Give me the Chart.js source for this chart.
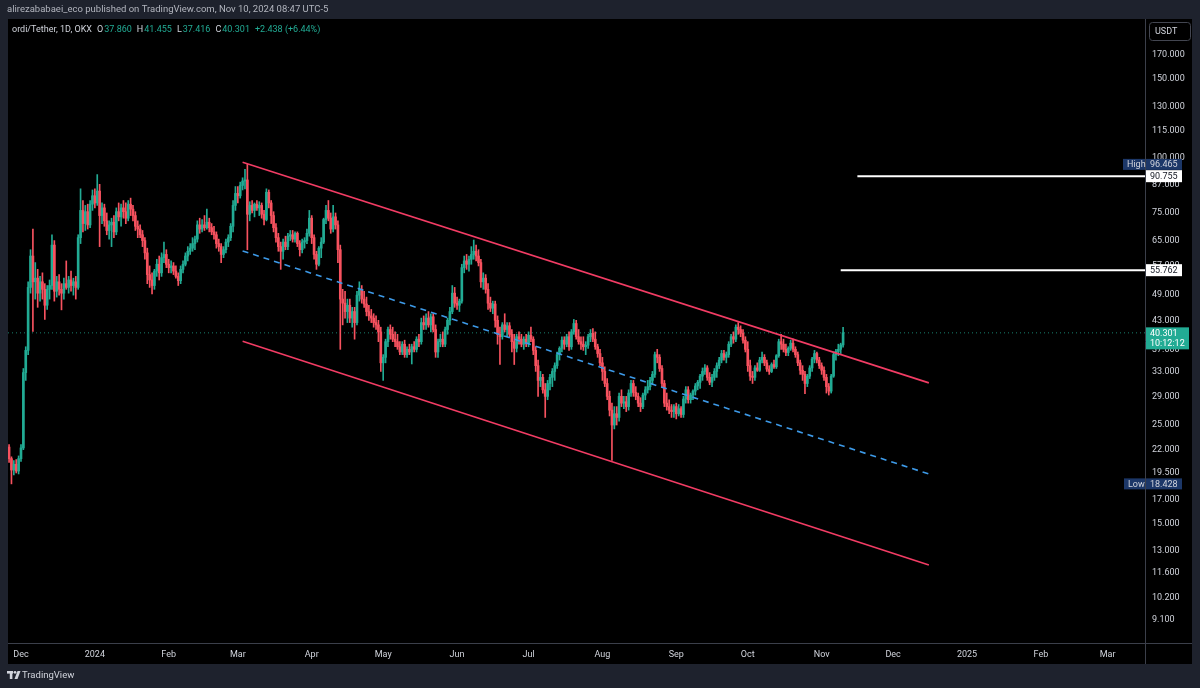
<!DOCTYPE html>
<html>
<head>
<meta charset="utf-8">
<script src="https://cdn.jsdelivr.net/npm/chart.js@4.4.1/dist/chart.umd.min.js"></script>
<style>
  html, body { margin:0; padding:0; background:#1e222d; }
  canvas { display:block; }
</style>
</head>
<body>
<canvas id="chart" width="1200" height="688"></canvas>
<script>
/* ---------- data: ORDI/USDT daily, one row per week (Sun..Sat) ---------- */
const startDate = '2023-11-26';

const opens = [
  22.3, 21.0, 19.8, 20.4, 19.7, 21.0, 22.2,
  32.8, 36.8, 51.0, 60.0, 52.5, 53.5, 49.5,
  52.5, 50.5, 46.5, 50.5, 51.5, 63.5, 50.0,
  52.5, 50.5, 49.5, 52.0, 51.0, 53.0, 51.5,
  52.5, 51.0, 66.0, 76.0, 71.0, 75.5, 70.5,
  78.5, 82.0, 79.0, 84.0, 74.0, 77.0, 72.0,
  68.5, 70.5, 71.5, 68.0, 75.5, 73.5, 77.0,
  75.5, 73.0, 78.5, 76.5, 74.0, 70.0, 69.0,
  67.0, 65.0, 61.0, 54.5, 53.0, 51.5, 55.5,
  57.5, 55.0, 59.5, 60.5, 57.5, 56.5, 57.0,
  55.5, 54.0, 52.8, 56.0, 57.5, 60.0, 61.5,
  62.5, 64.0, 65.5, 70.5, 69.0, 70.5, 69.5,
  71.5, 69.5, 68.0, 67.0, 64.0, 63.0, 60.5,
  62.0, 64.5, 66.0, 70.0, 78.0, 83.0, 82.0,
  86.5, 88.5, 89.0, 74.5, 78.0, 76.0, 78.5,
  77.0, 78.0, 74.5, 72.5, 83.5, 79.0, 74.0,
  69.5, 66.0, 63.0, 61.5, 64.5, 63.0, 66.5,
  67.0, 65.5, 67.5, 64.0, 62.0, 64.5, 65.0,
  67.5, 73.0, 66.0, 60.5, 57.5, 62.5, 64.5,
  72.5, 76.0, 73.0, 69.0, 73.5, 70.5, 62.0,
  48.0, 47.0, 45.0, 46.5, 43.5, 45.0, 42.5,
  49.0, 50.5, 48.0, 46.8, 45.0, 44.0, 43.5,
  42.5, 42.0, 40.5, 34.5, 35.5, 38.5, 41.0,
  40.0, 39.0, 38.5, 37.5, 36.5, 38.0, 36.0,
  37.0, 36.5, 37.5, 37.0, 39.0, 38.5, 42.5,
  42.0, 43.5, 42.0, 43.8, 41.0, 36.5, 38.5,
  39.0, 38.0, 41.0, 43.0, 45.0, 49.5, 47.0,
  46.5, 47.5, 56.5, 58.5, 57.5, 59.0, 60.5,
  61.5, 60.0, 58.0, 52.5, 53.5, 50.5, 47.0,
  45.8, 46.8, 43.0, 40.0, 39.5, 42.0, 41.0,
  41.8, 40.0, 38.5, 37.2, 39.5, 39.0, 38.0,
  39.0, 38.2, 39.8, 39.0, 36.8, 34.0, 31.5,
  32.0, 30.0, 29.0, 31.0, 32.0, 33.0, 34.0,
  36.0, 37.2, 38.8, 38.0, 39.5, 37.5, 40.5,
  42.3, 39.5, 38.5, 38.0, 37.5, 37.8, 39.5,
  40.2, 39.0, 37.5, 36.2, 34.5, 33.0, 31.0,
  29.0, 27.0, 25.0, 26.5, 26.0, 29.0, 28.0,
  28.2, 27.5, 29.5, 31.0, 29.6, 29.0, 28.0,
  27.5, 29.2, 30.0, 30.5, 31.5, 32.5, 36.0,
  35.5, 33.5, 31.0, 28.0, 27.5, 27.0, 26.8,
  27.5, 26.5, 27.2, 26.4, 28.6, 30.0, 28.5,
  29.2, 29.8, 30.6, 31.2, 32.2, 33.0, 33.6,
  32.0, 31.2, 32.0, 33.0, 34.0, 35.0, 36.2,
  35.5, 36.0, 38.0, 39.5, 39.0, 41.5, 41.0,
  40.2, 38.8, 37.0, 34.0, 32.2, 32.0, 33.6,
  33.2, 35.0, 35.5, 34.5, 33.4, 33.0, 34.2,
  33.8, 35.8, 38.5, 38.0, 37.0, 36.4, 37.2,
  38.2, 37.0, 36.0, 34.5, 33.2, 32.5, 31.0,
  32.2, 33.6, 35.2, 36.2, 35.0, 34.0, 33.2,
  32.0, 30.5, 29.8, 32.2, 36.0, 36.6, 37.0,
  37.86
];

const highs = [
  22.6, 21.2, 20.8, 20.9, 21.3, 22.6, 33.5,
  37.5, 52.5, 62.0, 69.0, 58.0, 56.0, 54.0,
  55.0, 52.0, 51.5, 53.0, 67.0, 65.0, 54.0,
  54.5, 52.0, 53.5, 58.5, 54.0, 55.5, 53.5,
  54.0, 67.0, 85.0, 80.0, 78.0, 78.5, 80.0,
  84.5, 85.0, 91.5, 87.0, 79.0, 78.5, 75.0,
  72.0, 73.0, 74.0, 77.0, 79.0, 78.5, 80.0,
  79.0, 80.0, 81.0, 78.0, 75.5, 72.0, 70.5,
  68.5, 66.0, 62.5, 57.0, 55.0, 56.0, 59.0,
  60.0, 61.0, 64.5, 62.0, 59.0, 58.5, 58.0,
  57.0, 55.0, 57.0, 58.5, 61.0, 63.0, 64.0,
  66.0, 66.5, 72.0, 73.0, 72.5, 74.0, 76.5,
  73.0, 71.0, 70.0, 68.0, 65.5, 64.0, 63.0,
  65.5, 67.0, 71.0, 80.0, 86.0, 86.0, 88.0,
  90.0, 94.0, 96.465, 79.5, 80.0, 79.0, 80.0,
  79.5, 79.0, 76.0, 85.0, 84.5, 80.0, 75.5,
  71.0, 67.5, 64.5, 65.5, 66.5, 67.5, 68.5,
  68.5, 68.0, 68.0, 65.0, 65.5, 66.0, 69.0,
  76.0, 74.0, 67.0, 61.5, 63.0, 66.0, 73.0,
  78.0, 80.0, 75.0, 78.0, 75.0, 72.0, 63.5,
  50.5, 50.0, 48.0, 48.0, 46.0, 46.0, 50.0,
  52.5, 51.5, 50.0, 48.5, 46.5, 45.5, 44.5,
  44.0, 43.0, 41.5, 36.0, 39.0, 41.5, 42.0,
  41.5, 40.5, 40.0, 38.5, 38.5, 38.8, 37.5,
  38.0, 38.0, 38.5, 39.5, 40.0, 43.5, 44.0,
  44.5, 45.0, 44.5, 44.5, 42.0, 39.0, 40.0,
  40.5, 41.5, 43.5, 46.0, 51.5, 51.0, 48.5,
  48.0, 57.5, 60.0, 60.5, 60.0, 63.0, 65.2,
  63.5, 62.0, 59.0, 55.0, 54.5, 52.0, 48.5,
  47.5, 47.5, 44.0, 41.5, 42.5, 44.5, 42.5,
  42.5, 41.0, 40.0, 40.0, 40.5, 40.0, 39.5,
  40.0, 40.5, 41.5, 39.5, 37.5, 35.0, 33.0,
  32.5, 31.0, 31.5, 32.5, 33.5, 34.5, 36.5,
  37.5, 39.5, 39.5, 40.0, 40.5, 41.0, 43.2,
  43.0, 41.0, 39.5, 39.5, 38.5, 40.0, 41.0,
  41.2, 40.5, 38.0, 37.0, 35.5, 33.8, 31.8,
  29.8, 28.0, 27.5, 27.5, 29.5, 30.0, 29.0,
  29.0, 30.0, 31.5, 31.5, 30.5, 29.5, 28.8,
  29.5, 30.5, 31.5, 32.0, 33.0, 36.5, 37.0,
  36.0, 34.0, 31.5, 29.5, 28.5, 27.8, 27.8,
  28.0, 27.8, 27.5, 29.0, 30.5, 30.5, 29.5,
  30.0, 31.0, 31.5, 32.5, 33.6, 34.2, 34.0,
  32.8, 32.5, 33.5, 34.5, 35.5, 36.8, 36.8,
  36.5, 38.5, 40.0, 40.5, 42.0, 42.5, 41.8,
  41.0, 39.5, 38.5, 35.0, 33.0, 34.0, 34.5,
  35.5, 36.5, 36.0, 35.0, 34.0, 34.5, 35.0,
  36.0, 39.0, 40.0, 39.0, 38.0, 37.5, 38.8,
  39.0, 37.5, 36.5, 35.0, 34.0, 33.0, 32.5,
  34.0, 35.5, 36.8, 36.5, 35.5, 34.5, 33.8,
  32.5, 31.0, 32.5, 36.5, 37.0, 38.0, 38.2,
  41.455
];

const lows = [
  20.6, 18.428, 19.3, 19.5, 19.4, 20.7, 22.0,
  31.5, 36.0, 49.5, 40.6, 48.0, 46.0, 47.5,
  48.0, 43.2, 45.5, 48.0, 50.5, 47.5, 48.5,
  49.0, 45.4, 48.0, 50.5, 49.5, 50.0, 49.0,
  48.0, 50.5, 64.0, 68.0, 68.5, 69.0, 69.5,
  76.0, 77.0, 78.0, 63.0, 71.0, 70.0, 67.0,
  65.5, 63.0, 66.0, 67.0, 72.0, 70.0, 73.0,
  71.0, 72.0, 74.0, 72.0, 68.5, 66.0, 66.0,
  63.0, 59.0, 52.0, 51.0, 49.3, 50.5, 54.0,
  53.0, 54.0, 58.0, 56.5, 55.0, 55.0, 54.5,
  53.5, 51.5, 52.0, 55.0, 57.0, 58.5, 60.5,
  61.5, 62.0, 64.5, 67.5, 68.0, 68.5, 69.0,
  68.0, 67.0, 65.5, 62.5, 61.5, 58.0, 59.5,
  61.0, 63.0, 65.0, 68.0, 76.0, 79.0, 81.0,
  84.5, 85.0, 62.0, 72.0, 75.0, 73.5, 76.0,
  74.0, 73.0, 70.5, 72.0, 77.0, 71.0, 68.0,
  64.5, 61.5, 56.0, 59.0, 62.0, 62.0, 65.0,
  64.5, 64.5, 63.0, 60.0, 61.0, 62.5, 64.0,
  66.5, 64.0, 59.0, 56.0, 57.0, 59.5, 64.0,
  71.0, 72.0, 67.5, 68.0, 69.0, 58.0, 37.0,
  42.0, 43.5, 42.5, 42.5, 41.5, 39.0, 42.0,
  47.5, 47.0, 46.0, 44.0, 43.0, 42.5, 41.5,
  41.0, 38.5, 33.0, 31.5, 34.5, 37.5, 39.0,
  38.5, 37.5, 37.0, 36.0, 36.0, 35.5, 35.5,
  36.0, 34.3, 36.5, 36.5, 37.5, 38.0, 41.0,
  41.0, 41.5, 40.5, 40.5, 35.5, 35.5, 37.5,
  37.5, 37.5, 40.0, 42.0, 44.5, 46.0, 45.5,
  45.0, 47.0, 55.0, 56.0, 55.5, 57.5, 59.0,
  58.5, 57.0, 51.0, 50.5, 49.5, 45.5, 45.0,
  44.5, 41.5, 38.0, 34.2, 39.0, 40.5, 39.5,
  39.5, 36.5, 34.2, 36.5, 38.0, 37.5, 37.0,
  37.5, 37.5, 38.5, 36.0, 33.0, 29.0, 30.5,
  29.5, 26.0, 28.5, 30.0, 30.5, 31.5, 33.5,
  35.0, 36.5, 37.0, 37.5, 36.8, 37.0, 40.0,
  39.0, 38.0, 37.0, 36.8, 36.0, 37.2, 38.5,
  38.5, 37.0, 35.5, 34.0, 31.5, 30.5, 28.5,
  26.2, 20.8, 24.5, 25.0, 25.5, 27.5, 27.2,
  26.8, 27.0, 29.0, 29.0, 28.5, 27.5, 26.8,
  27.2, 28.5, 29.5, 30.0, 30.8, 32.0, 34.5,
  33.0, 30.5, 27.5, 27.0, 26.5, 26.0, 26.0,
  25.8, 26.2, 26.0, 26.0, 28.0, 28.0, 28.0,
  28.5, 29.2, 30.0, 30.2, 31.5, 32.5, 31.5,
  30.8, 30.5, 31.5, 32.0, 33.5, 34.5, 35.0,
  34.5, 35.5, 37.5, 38.2, 38.5, 40.0, 39.5,
  38.2, 36.5, 33.0, 31.5, 31.0, 31.5, 33.0,
  33.0, 34.5, 34.0, 33.0, 32.5, 32.8, 33.5,
  33.5, 35.5, 37.0, 36.5, 35.8, 35.8, 36.8,
  36.5, 35.5, 34.0, 32.5, 31.5, 29.4, 30.5,
  31.8, 33.0, 34.5, 34.5, 33.5, 32.5, 31.5,
  29.5, 29.2, 29.5, 32.0, 35.0, 35.8, 36.2,
  37.416
];

const closes = [
  21.0, 19.8, 20.4, 19.7, 21.0, 22.2, 32.8,
  36.8, 51.0, 60.0, 52.5, 53.5, 49.5, 52.5,
  50.5, 46.5, 50.5, 51.5, 63.5, 50.0, 52.5,
  50.5, 49.5, 52.0, 51.0, 53.0, 51.5, 52.5,
  51.0, 66.0, 76.0, 71.0, 75.5, 70.5, 78.5,
  82.0, 79.0, 84.0, 74.0, 77.0, 72.0, 68.5,
  70.5, 71.5, 68.0, 75.5, 73.5, 77.0, 75.5,
  73.0, 78.5, 76.5, 74.0, 70.0, 69.0, 67.0,
  65.0, 61.0, 54.5, 53.0, 51.5, 55.5, 57.5,
  55.0, 59.5, 60.5, 57.5, 56.5, 57.0, 55.5,
  54.0, 52.8, 56.0, 57.5, 60.0, 61.5, 62.5,
  64.0, 65.5, 70.5, 69.0, 70.5, 69.5, 71.5,
  69.5, 68.0, 67.0, 64.0, 63.0, 60.5, 62.0,
  64.5, 66.0, 70.0, 78.0, 83.0, 82.0, 86.5,
  88.5, 89.0, 74.5, 78.0, 76.0, 78.5, 77.0,
  78.0, 74.5, 72.5, 83.5, 79.0, 74.0, 69.5,
  66.0, 63.0, 61.5, 64.5, 63.0, 66.5, 67.0,
  65.5, 67.5, 64.0, 62.0, 64.5, 65.0, 67.5,
  73.0, 66.0, 60.5, 57.5, 62.5, 64.5, 72.5,
  76.0, 73.0, 69.0, 73.5, 70.5, 62.0, 48.0,
  47.0, 45.0, 46.5, 43.5, 45.0, 42.5, 49.0,
  50.5, 48.0, 46.8, 45.0, 44.0, 43.5, 42.5,
  42.0, 40.5, 34.5, 35.5, 38.5, 41.0, 40.0,
  39.0, 38.5, 37.5, 36.5, 38.0, 36.0, 37.0,
  36.5, 37.5, 37.0, 39.0, 38.5, 42.5, 42.0,
  43.5, 42.0, 43.8, 41.0, 36.5, 38.5, 39.0,
  38.0, 41.0, 43.0, 45.0, 49.5, 47.0, 46.5,
  47.5, 56.5, 58.5, 57.5, 59.0, 60.5, 61.5,
  60.0, 58.0, 52.5, 53.5, 50.5, 47.0, 45.8,
  46.8, 43.0, 40.0, 39.5, 42.0, 41.0, 41.8,
  40.0, 38.5, 37.2, 39.5, 39.0, 38.0, 39.0,
  38.2, 39.8, 39.0, 36.8, 34.0, 31.5, 32.0,
  30.0, 29.0, 31.0, 32.0, 33.0, 34.0, 36.0,
  37.2, 38.8, 38.0, 39.5, 37.5, 40.5, 42.3,
  39.5, 38.5, 38.0, 37.5, 37.8, 39.5, 40.2,
  39.0, 37.5, 36.2, 34.5, 33.0, 31.0, 29.0,
  27.0, 25.0, 26.5, 26.0, 29.0, 28.0, 28.2,
  27.5, 29.5, 31.0, 29.6, 29.0, 28.0, 27.5,
  29.2, 30.0, 30.5, 31.5, 32.5, 36.0, 35.5,
  33.5, 31.0, 28.0, 27.5, 27.0, 26.8, 27.5,
  26.5, 27.2, 26.4, 28.6, 30.0, 28.5, 29.2,
  29.8, 30.6, 31.2, 32.2, 33.0, 33.6, 32.0,
  31.2, 32.0, 33.0, 34.0, 35.0, 36.2, 35.5,
  36.0, 38.0, 39.5, 39.0, 41.5, 41.0, 40.2,
  38.8, 37.0, 34.0, 32.2, 32.0, 33.6, 33.2,
  35.0, 35.5, 34.5, 33.4, 33.0, 34.2, 33.8,
  35.8, 38.5, 38.0, 37.0, 36.4, 37.2, 38.2,
  37.0, 36.0, 34.5, 33.2, 32.5, 31.0, 32.2,
  33.6, 35.2, 36.2, 35.0, 34.0, 33.2, 32.0,
  30.5, 29.8, 32.2, 36.0, 36.6, 37.0, 37.86,
  40.301
];

// price scale ticks as TradingView printed them
const priceTicks = [170, 150, 130, 115, 100, 87, 75, 65, 57, 49, 43, 37, 33, 29, 25, 22, 19.5, 17, 15, 13, 11.6, 10.2, 9.1];
const timeTickDates = ['2023-12-01','2024-01-01','2024-02-01','2024-03-01','2024-04-01','2024-05-01','2024-06-01','2024-07-01',
                       '2024-08-01','2024-09-01','2024-10-01','2024-11-01','2024-12-01','2025-01-01','2025-02-01','2025-03-01'];
const timeTickLabels = ['Dec','2024','Feb','Mar','Apr','May','Jun','Jul','Aug','Sep','Oct','Nov','Dec','2025','Feb','Mar'];

// drawings
const channelDates = ['2024-03-03', '2024-12-16'];
const channelUpper = [97.5, 31.1];
const channelMid   = [61.6, 19.4];
const channelLower = [38.6, 12.1];
const levelDates   = ['2024-11-16', '2024-11-09'];
const levelPrices  = [90.755, 55.762];

const lastPrice = 40.301;
const lastCountdown = '10:12:12';
const periodHigh = 96.465;
const periodLow = 18.428;
const ohlcLast = { o:'37.860', h:'41.455', l:'37.416', c:'40.301', chg:'+2.438 (+6.44%)' };

/* ---------- helpers ---------- */
const DAY = 86400000;
const dayIdx = s => (Date.parse(s) - Date.parse(startDate)) / DAY;
const viewMin = -0.45, viewMax = 476.7;   // visible time range (days from start)
const priceMin = 8.08, priceMax = 204.9;  // visible price range

const UP = '#22ab94', DOWN = '#f7525f';
const FONT = 'Roboto, "Liberation Sans", sans-serif';

const candleColors = closes.map((c, i) => c >= opens[i] ? UP : DOWN);
const wickData = highs.map((h, i) => ({ x: i, y: [lows[i], h] }));
const bodyData = closes.map((c, i) => ({ x: i, y: [Math.min(opens[i], c), Math.max(opens[i], c)] }));
const seg = (dates, vals) => dates.map((d, i) => ({ x: dayIdx(d), y: vals[i] }));

/* ---------- frame, tags and header text ---------- */
function tag(ctx, x, y, w, h, bg, fg, text) {
  ctx.fillStyle = bg;
  ctx.fillRect(x, y - h/2, w, h);
  ctx.fillStyle = fg;
  ctx.textAlign = 'left';
  ctx.textBaseline = 'middle';
  ctx.fillText(text, x + 4, y + 0.5);
}

const framePlugin = {
  id: 'tvFrame',
  beforeDraw(chart) {
    const ctx = chart.ctx;
    ctx.save();
    ctx.fillStyle = '#1e222d';
    ctx.fillRect(0, 0, 1200, 688);
    ctx.fillStyle = '#000000';
    ctx.fillRect(8, 19, 1184, 645);
    ctx.restore();
  },
  afterDraw(chart) {
    const ctx = chart.ctx, ca = chart.chartArea, y = chart.scales.y;
    ctx.save();

    // separators
    ctx.strokeStyle = '#3b3f4a';
    ctx.lineWidth = 1;
    ctx.beginPath();
    ctx.moveTo(ca.right + 0.5, 19); ctx.lineTo(ca.right + 0.5, 664);
    ctx.moveTo(8, ca.bottom + 0.5); ctx.lineTo(1192, ca.bottom + 0.5);
    ctx.stroke();

    // header
    ctx.font = '9.5px ' + FONT;
    ctx.textBaseline = 'middle';
    ctx.textAlign = 'left';
    ctx.fillStyle = '#b2b5be';
    ctx.fillText('alirezababaei_eco published on TradingView.com, Nov 10, 2024 08:47 UTC-5', 7, 10);

    ctx.font = '9px ' + FONT;
    let x = 12;
    const put = (t, col, gap) => { ctx.fillStyle = col; ctx.fillText(t, x, 29.5); x += ctx.measureText(t).width + (gap || 0); };
    put('ordi/Tether, 1D, OKX', '#d1d4dc', 5);
    put('O', '#d1d4dc', 1); put(ohlcLast.o, UP, 5);
    put('H', '#d1d4dc', 1); put(ohlcLast.h, UP, 5);
    put('L', '#d1d4dc', 1); put(ohlcLast.l, UP, 5);
    put('C', '#d1d4dc', 1); put(ohlcLast.c, UP, 5);
    put(ohlcLast.chg, UP, 0);

    // currency box
    ctx.strokeStyle = '#434651';
    ctx.beginPath();
    ctx.roundRect(1149.5, 22.5, 41, 18, 3);
    ctx.stroke();
    ctx.fillStyle = '#d1d4dc';
    ctx.fillText('USDT', 1155, 32);

    // price scale tags
    const L = 1145;
    const yh = y.getPixelForValue(periodHigh);
    tag(ctx, 1123, yh, 22, 11, '#1c3768', '#d1d4dc', 'High');
    tag(ctx, L + 1, yh, 36, 11, '#1c3768', '#d1d4dc', periodHigh.toFixed(3));
    const yl = y.getPixelForValue(periodLow);
    tag(ctx, 1124, yl, 21, 11, '#1c3768', '#d1d4dc', 'Low');
    tag(ctx, L + 1, yl, 36, 11, '#1c3768', '#d1d4dc', periodLow.toFixed(3));
    levelPrices.forEach(p => tag(ctx, L + 1, y.getPixelForValue(p), 36, 12, '#ffffff', '#131722', p.toFixed(3)));

    const yp = y.getPixelForValue(lastPrice);
    ctx.fillStyle = UP;
    ctx.fillRect(L + 1, yp - 5.5, 43, 22);
    ctx.fillStyle = '#ffffff';
    ctx.fillText(lastPrice.toFixed(3), L + 5, yp + 0.5);
    ctx.fillText(lastCountdown, L + 5, yp + 10.5);

    // footer logo
    ctx.fillStyle = '#d1d4dc';
    ctx.fillRect(7, 671, 6, 2.6);
    ctx.fillRect(9.8, 671, 2.6, 8);
    ctx.beginPath(); ctx.arc(15, 672.3, 1.4, 0, Math.PI * 2); ctx.fill();
    ctx.beginPath(); ctx.moveTo(17.5, 671); ctx.lineTo(20.5, 671); ctx.lineTo(17.5, 679); ctx.lineTo(14.5, 679); ctx.closePath(); ctx.fill();
    ctx.font = '9.5px ' + FONT;
    ctx.fillText('TradingView', 22, 676);
    ctx.restore();
  }
};

/* ---------- chart ---------- */
new Chart(document.getElementById('chart'), {
  type: 'bar',
  data: {
    datasets: [
      { type:'line', data: seg(channelDates, channelUpper), borderColor:'#f23c64', borderWidth:1.6, pointRadius:0, order:0 },
      { type:'line', data: seg(channelDates, channelLower), borderColor:'#f23c64', borderWidth:1.6, pointRadius:0, order:0 },
      { type:'line', data: seg(channelDates, channelMid), borderColor:'#3d9ae8', borderWidth:1.6, borderDash:[6,5], pointRadius:0, order:0 },
      { type:'line', data: [{x:dayIdx(levelDates[0]), y:levelPrices[0]}, {x:viewMax, y:levelPrices[0]}], borderColor:'#ffffff', borderWidth:2, pointRadius:0, order:0 },
      { type:'line', data: [{x:dayIdx(levelDates[1]), y:levelPrices[1]}, {x:viewMax, y:levelPrices[1]}], borderColor:'#ffffff', borderWidth:2, pointRadius:0, order:0 },
      { type:'bar', data: wickData, backgroundColor: candleColors, barThickness: 1, grouped:false, order:1 },
      { type:'bar', data: bodyData, backgroundColor: candleColors, barThickness: 2, minBarLength: 1, grouped:false, order:1 },
      { type:'line', data: [{x:viewMin, y:lastPrice}, {x:viewMax, y:lastPrice}], borderColor:'rgba(34,171,148,0.75)', borderWidth:1, borderDash:[1,3], pointRadius:0, order:2 }
    ]
  },
  options: {
    responsive: false,
    devicePixelRatio: 1,
    animation: false,
    events: [],
    layout: { padding: { left: 8, top: 19, right: 8, bottom: 24 } },
    plugins: { legend: { display:false }, tooltip: { enabled:false } },
    scales: {
      x: {
        type: 'linear', min: viewMin, max: viewMax, offset: false, stacked: false, bounds: 'data',
        grid: { display: false, drawTicks: false },
        border: { display: false },
        afterBuildTicks: s => { s.ticks = timeTickDates.map(d => ({ value: dayIdx(d) })); },
        afterFit: s => { s.height = 21; },
        ticks: {
          autoSkip: false, maxRotation: 0, padding: 6, color: '#d1d4dc',
          font: { family: FONT, size: 9 },
          callback: v => timeTickLabels[timeTickDates.findIndex(d => dayIdx(d) === v)]
        }
      },
      y: {
        type: 'logarithmic', position: 'right', min: priceMin, max: priceMax, stacked: false, bounds: 'data',
        grid: { display: false, drawTicks: false },
        border: { display: false },
        afterBuildTicks: s => { s.ticks = priceTicks.map(v => ({ value: v })); },
        afterFit: s => { s.width = 47; },
        ticks: {
          autoSkip: false, padding: 7, color: '#d1d4dc',
          font: { family: FONT, size: 9 },
          callback: v => Number(v).toFixed(3)
        }
      }
    }
  },
  plugins: [framePlugin]
});
</script>
</body>
</html>
